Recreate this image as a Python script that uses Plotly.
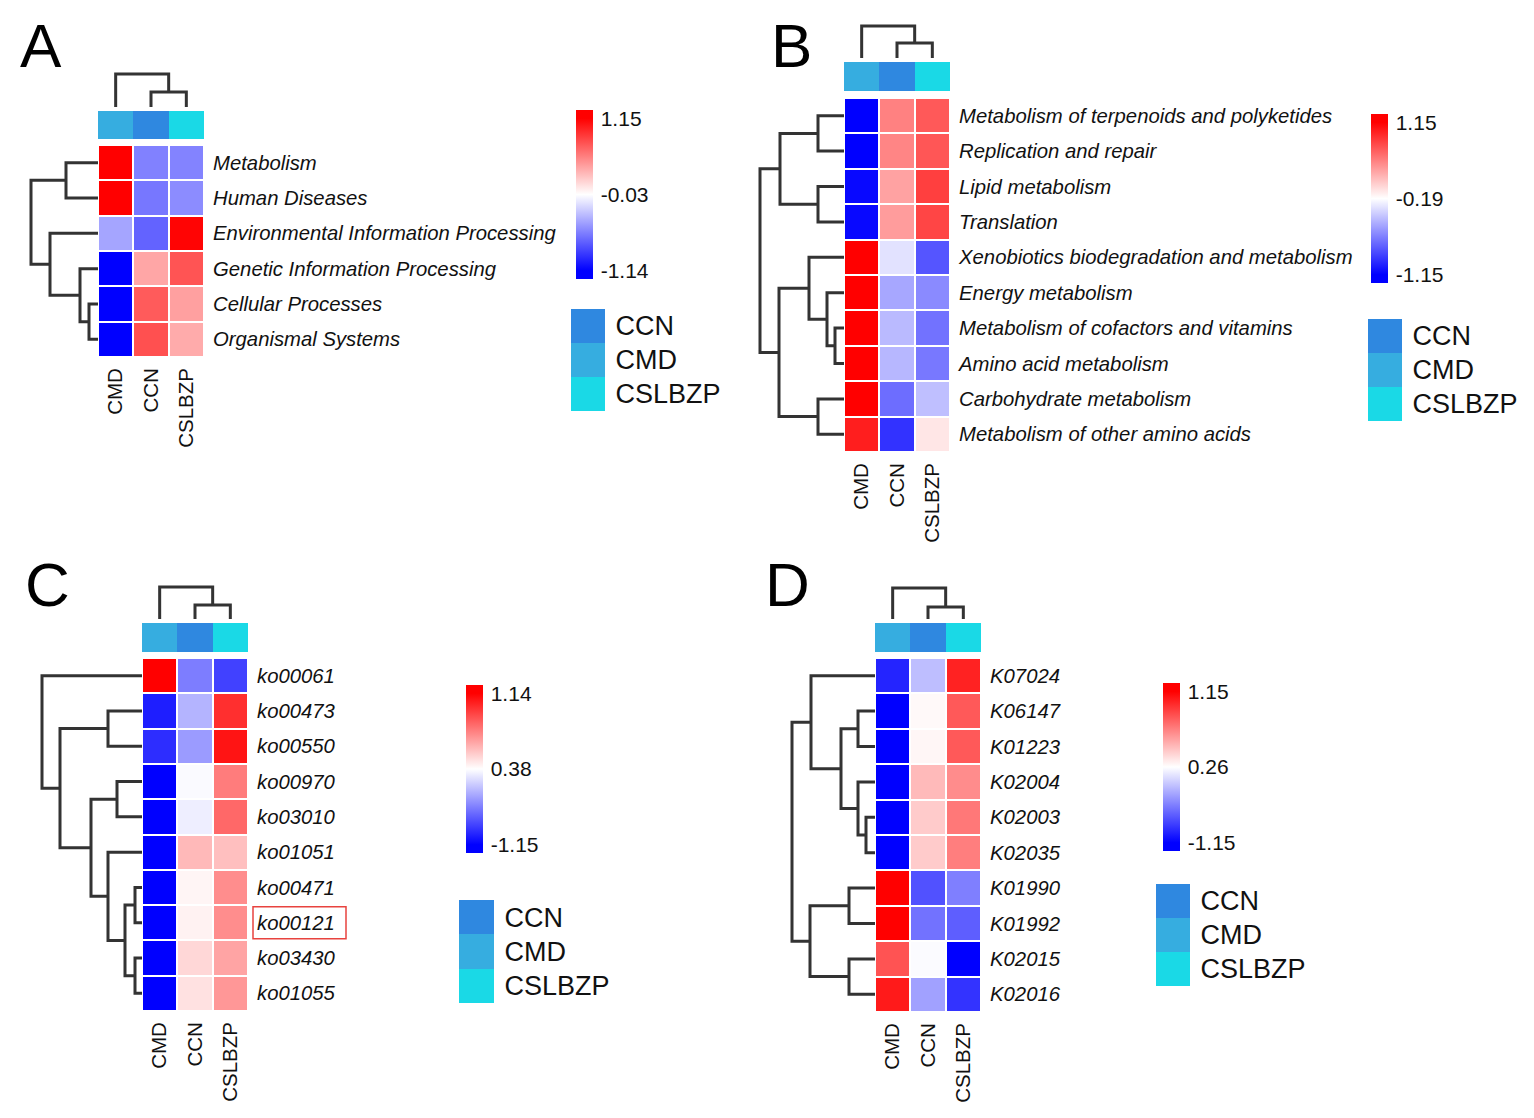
import plotly.graph_objects as go

W, H = 1534, 1118
OFF = 8  # the page body has an 8px margin
FW, FH = W - 2 * OFF, H - 2 * OFF
FONT = "Arial, Liberation Sans, sans-serif"

samples = ["CMD", "CCN", "CSLBZP"]
groups = ["CCN", "CMD", "CSLBZP"]
group_colors = ["#2F88E0", "#36ADE0", "#1AD9E6"]

# ---- panel A
a_rows = ["Metabolism", "Human Diseases", "Environmental Information Processing",
          "Genetic Information Processing", "Cellular Processes", "Organismal Systems"]
a_vals = [[1.15, -0.58, -0.57],
          [1.15, -0.62, -0.53],
          [-0.42, -0.71, 1.13],
          [-1.14, 0.38, 0.76],
          [-1.14, 0.73, 0.41],
          [-1.14, 0.78, 0.36]]
a_scale = [-1.14, -0.03, 1.15]
a_row_tree = [(0, 1, 32), (4, 5, 9), (3, 7, 18), (2, 8, 48), (6, 9, 67)]
a_col_tree = [(1, 2, 15), (0, 3, 33)]

# ---- panel B
b_rows = ["Metabolism of terpenoids and polyketides", "Replication and repair",
          "Lipid metabolism", "Translation", "Xenobiotics biodegradation and metabolism",
          "Energy metabolism", "Metabolism of cofactors and vitamins",
          "Amino acid metabolism", "Carbohydrate metabolism",
          "Metabolism of other amino acids"]
b_vals = [[-1.15, 0.47, 0.68],
          [-1.15, 0.45, 0.70],
          [-1.12, 0.30, 0.82],
          [-1.12, 0.33, 0.79],
          [1.15, -0.30, -0.83],
          [1.15, -0.52, -0.63],
          [1.15, -0.45, -0.72],
          [1.15, -0.46, -0.70],
          [1.15, -0.74, -0.43],
          [0.99, -0.96, -0.06]]
b_scale = [-1.15, -0.19, 1.15]
b_row_tree = [(0, 1, 26), (2, 3, 26), (10, 11, 64), (6, 7, 9), (5, 13, 17),
              (4, 14, 35), (8, 9, 26), (15, 16, 65), (12, 17, 84)]
b_col_tree = [(1, 2, 15), (0, 3, 32)]

# ---- panel C
c_rows = ["ko00061", "ko00473", "ko00550", "ko00970", "ko03010",
          "ko01051", "ko00471", "ko00121", "ko03430", "ko01055"]
c_vals = [[1.14, -0.40, -0.76],
          [-0.97, -0.07, 1.00],
          [-0.88, -0.22, 1.08],
          [-1.15, 0.35, 0.77],
          [-1.15, 0.28, 0.83],
          [-1.15, 0.59, 0.57],
          [-1.15, 0.41, 0.72],
          [-1.15, 0.42, 0.72],
          [-1.15, 0.50, 0.65],
          [-1.15, 0.47, 0.69]]
c_scale = [-1.15, 0.38, 1.14]
c_row_tree = [(1, 2, 34), (3, 4, 25), (6, 7, 7), (8, 9, 7), (12, 13, 17),
              (5, 14, 34), (11, 15, 51), (10, 16, 82), (0, 17, 100)]
c_col_tree = [(1, 2, 14), (0, 3, 32)]
c_highlight = "ko00121"

# ---- panel D
d_rows = ["K07024", "K06147", "K01223", "K02004", "K02003",
          "K02035", "K01990", "K01992", "K02015", "K02016"]
d_vals = [[-0.95, -0.10, 1.03],
          [-1.15, 0.28, 0.84],
          [-1.15, 0.29, 0.84],
          [-1.15, 0.50, 0.66],
          [-1.15, 0.44, 0.73],
          [-1.15, 0.44, 0.71],
          [1.15, -0.70, -0.45],
          [1.15, -0.52, -0.63],
          [0.86, 0.24, -1.15],
          [1.06, -0.26, -0.87]]
d_scale = [-1.15, 0.26, 1.15]
d_row_tree = [(1, 2, 17), (4, 5, 9), (3, 11, 17), (10, 12, 34), (0, 13, 64),
              (6, 7, 26), (8, 9, 26), (15, 16, 65), (14, 17, 83)]
d_col_tree = [(1, 2, 12), (0, 3, 31)]

# pixel layout of each panel (window coordinates)
geoms = {
    "A": dict(hx0=98, hx1=204, hy0=145, hy1=357, ay0=111, ay1=139, leaf=107,
              cbx=576, cbt=110, cbl=169, lx0=571, lx1=605, ly0=309, ly1=411, lt=(41, 45)),
    "B": dict(hx0=844, hx1=950, hy0=98, hy1=452, ay0=62, ay1=91, leaf=58,
              cbx=1371, cbt=114, cbl=169, lx0=1368, lx1=1402, ly0=319, ly1=421, lt=(791, 45)),
    "C": dict(hx0=142, hx1=248, hy0=658, hy1=1011, ay0=623, ay1=652, leaf=619,
              cbx=466, cbt=685, cbl=168, lx0=459, lx1=494, ly0=900, ly1=1003, lt=(47, 584)),
    "D": dict(hx0=875, hx1=981, hy0=658, hy1=1012, ay0=623, ay1=652, leaf=619,
              cbx=1163, cbt=683, cbl=168, lx0=1156, lx1=1190, ly0=884, ly1=986, lt=(787, 584)),
}

PAD = 0.055
f = PAD / (1 + 2 * PAD)
heat_cs = [[0, "#0000FF"], [f, "#0000FF"], [0.5, "#FFFFFF"], [1 - f, "#FF0000"], [1, "#FF0000"]]
group_cs = [[0, group_colors[0]], [1 / 3, group_colors[0]], [1 / 3, group_colors[1]],
            [2 / 3, group_colors[1]], [2 / 3, group_colors[2]], [1, group_colors[2]]]
clear = "rgba(0,0,0,0)"


def px_x(p):
    return (p - OFF) / FW


def px_y(p):
    return 1 - (p - OFF) / FH


def to_unit(v, lo, mid, hi):
    # colour key is blue - white (middle label) - red
    if v >= mid:
        return 0.5 + 0.5 * (v - mid) / (hi - mid)
    return 0.5 - 0.5 * (mid - v) / (mid - lo)


def tree_lines(n, merges):
    pos = {i: float(i) for i in range(n)}
    hgt = {i: 0.0 for i in range(n)}
    hs, ps = [], []
    for k, (a, b, h) in enumerate(merges):
        hs += [hgt[a], h, h, hgt[b], None]
        ps += [pos[a], pos[a], pos[b], pos[b], None]
        pos[n + k] = (pos[a] + pos[b]) / 2
        hgt[n + k] = h
    return hs, ps


def ref(p, i):
    return p if i == 1 else f"{p}{i}"


def key(p, i):
    return f"{p}axis" if i == 1 else f"{p}axis{i}"


fig = go.Figure()
lay = {}
hidden = dict(visible=False, showgrid=False, zeroline=False)


def add_panel(k, letter, rows, vals, scale, row_tree, col_tree):
    g = geoms[letter]
    n = len(rows)
    xh, xd, xl = 3 * k + 1, 3 * k + 2, 3 * k + 3
    yh, yd, ya, yl = 4 * k + 1, 4 * k + 2, 4 * k + 3, 4 * k + 4

    z = [[to_unit(v, *scale) for v in r] for r in vals]
    fig.add_trace(go.Heatmap(
        z=z, x=[0, 1, 2], y=list(range(n)), colorscale=heat_cs, zmin=-PAD, zmax=1 + PAD,
        xgap=2, ygap=2, hoverinfo="skip", xaxis=ref("x", xh), yaxis=ref("y", yh),
        colorbar=dict(x=px_x(g["cbx"]), xanchor="left", y=px_y(g["cbt"]), yanchor="top",
                      len=g["cbl"], lenmode="pixels", thickness=17, thicknessmode="pixels",
                      outlinewidth=0, xpad=0, ypad=0, tickvals=[0, 0.5, 1],
                      ticktext=[f"{v:.2f}" for v in scale], ticks="outside", ticklen=4,
                      tickcolor=clear, tickfont=dict(size=21, color="#111", family=FONT))))

    codes = [groups.index(s) for s in samples]
    fig.add_trace(go.Heatmap(z=[codes], x=[0, 1, 2], y=[0], colorscale=group_cs, zmin=0, zmax=2,
                             showscale=False, hoverinfo="skip",
                             xaxis=ref("x", xh), yaxis=ref("y", ya)))
    fig.add_trace(go.Heatmap(z=[[i] for i in range(len(groups))], x=[0], y=list(range(len(groups))),
                             colorscale=group_cs, zmin=0, zmax=2, showscale=False, hoverinfo="skip",
                             xaxis=ref("x", xl), yaxis=ref("y", yl)))

    hs, ps = tree_lines(n, row_tree)
    fig.add_trace(go.Scatter(x=hs, y=ps, mode="lines", line=dict(color="#333333", width=3),
                             hoverinfo="skip", showlegend=False,
                             xaxis=ref("x", xd), yaxis=ref("y", yh)))
    hs, ps = tree_lines(3, col_tree)
    fig.add_trace(go.Scatter(x=ps, y=hs, mode="lines", line=dict(color="#333333", width=3),
                             hoverinfo="skip", showlegend=False,
                             xaxis=ref("x", xh), yaxis=ref("y", yd)))

    rspan = max(m[2] for m in row_tree) + 4
    cspan = max(m[2] for m in col_tree) + 4

    lay[key("x", xh)] = dict(domain=[px_x(g["hx0"]), px_x(g["hx1"])], range=[-0.5, 2.5],
                             anchor=ref("y", yh), tickvals=[0, 1, 2], ticktext=samples,
                             tickangle=-90, ticks="", ticklabelstandoff=6,
                             tickfont=dict(size=20.5, color="#111"),
                             showgrid=False, zeroline=False, showline=False)
    lay[key("y", yh)] = dict(domain=[px_y(g["hy1"]), px_y(g["hy0"])], range=[n - 0.5, -0.5],
                             anchor=ref("x", xh), side="right", tickvals=list(range(n)),
                             ticktext=rows, ticks="outside", ticklen=4, tickcolor=clear,
                             tickfont=dict(size=20.3, color="#111", style="italic"),
                             showgrid=False, zeroline=False, showline=False)
    lay[key("x", xd)] = dict(domain=[px_x(g["hx0"] - rspan), px_x(g["hx0"])],
                             range=[rspan, 0], anchor=ref("y", yh), **hidden)
    lay[key("y", yd)] = dict(domain=[px_y(g["leaf"]), px_y(g["leaf"] - cspan)],
                             range=[0, cspan], anchor=ref("x", xh), **hidden)
    lay[key("y", ya)] = dict(domain=[px_y(g["ay1"]), px_y(g["ay0"])],
                             range=[-0.5, 0.5], anchor=ref("x", xh), **hidden)
    lay[key("x", xl)] = dict(domain=[px_x(g["lx0"]), px_x(g["lx1"])],
                             range=[-0.5, 0.5], anchor=ref("y", yl), **hidden)
    lay[key("y", yl)] = dict(domain=[px_y(g["ly1"]), px_y(g["ly0"])], range=[2.5, -0.5],
                             anchor=ref("x", xl), side="right", tickvals=[0, 1, 2],
                             ticktext=groups, ticks="outside", ticklen=4, tickcolor=clear,
                             tickfont=dict(size=27, color="#111"), showgrid=False,
                             zeroline=False, showline=False)

    fig.add_annotation(text=letter, x=px_x(g["lt"][0]), y=px_y(g["lt"][1]), xref="paper",
                       yref="paper", xanchor="center", yanchor="middle", showarrow=False,
                       font=dict(size=62, color="#000", family=FONT))
    return yh


add_panel(0, "A", a_rows, a_vals, a_scale, a_row_tree, a_col_tree)
add_panel(1, "B", b_rows, b_vals, b_scale, b_row_tree, b_col_tree)
yc = add_panel(2, "C", c_rows, c_vals, c_scale, c_row_tree, c_col_tree)
add_panel(3, "D", d_rows, d_vals, d_scale, d_row_tree, d_col_tree)

# red box round the highlighted pathway in C
hi = c_rows.index(c_highlight)
fig.add_shape(type="rect", xref="paper", yref=ref("y", yc), x0=px_x(253), x1=px_x(346),
              y0=hi - 0.45, y1=hi + 0.45, line=dict(color="#E8433F", width=1.5))

fig.update_layout(width=FW, height=FH, margin=dict(l=0, r=0, t=0, b=0),
                  paper_bgcolor="white", plot_bgcolor="white", showlegend=False,
                  font=dict(family=FONT, color="#111"), **lay)
fig.write_html("out.html")
